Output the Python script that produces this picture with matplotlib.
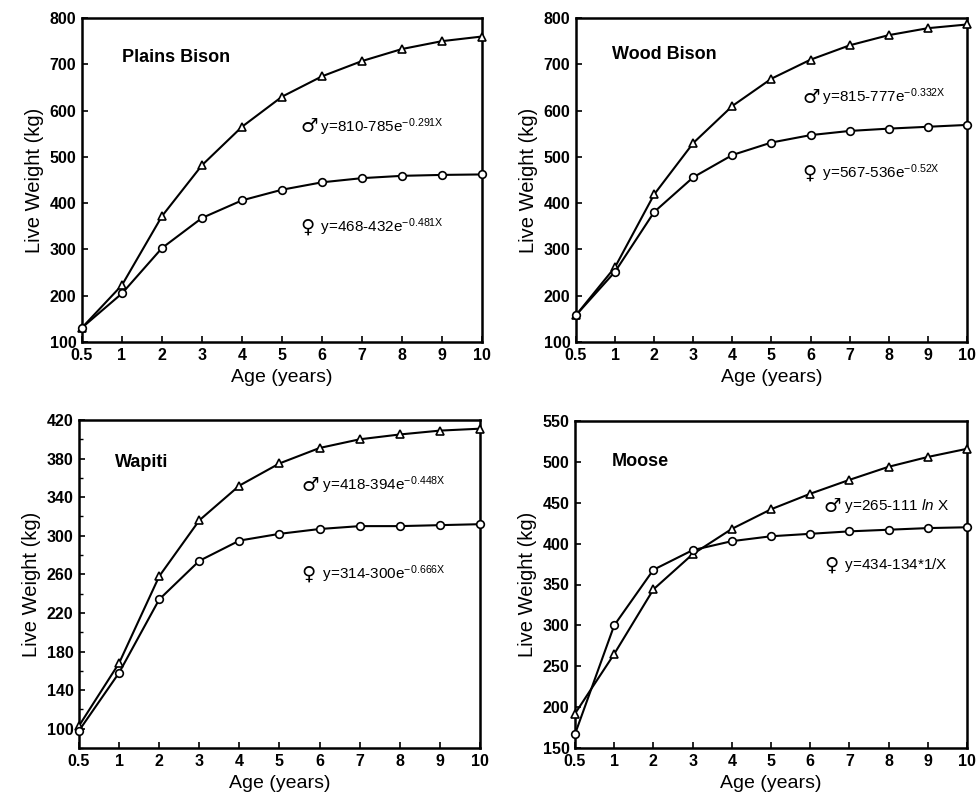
import matplotlib
matplotlib.use("Agg")
import matplotlib.pyplot as plt
from matplotlib.ticker import FixedLocator

plt.rcParams['font.family'] = ['Liberation Sans', 'DejaVu Sans']
plt.rcParams['mathtext.fontset'] = 'custom'
plt.rcParams['mathtext.rm'] = 'Liberation Sans'
plt.rcParams['mathtext.it'] = 'Liberation Sans:italic'
plt.rcParams['mathtext.bf'] = 'Liberation Sans:bold'

age_labels = ["0.5", "1", "2", "3", "4", "5", "6", "7", "8", "9", "10"]

plains_male = [131, 223, 372, 482, 565, 630, 674, 707, 733, 750, 760]
plains_female = [131, 205, 303, 368, 406, 429, 445, 454, 459, 461, 462]

wood_male = [158, 262, 419, 530, 610, 669, 710, 741, 763, 778, 786]
wood_female = [158, 252, 381, 456, 504, 531, 547, 556, 561, 565, 569]

wapiti_male = [103, 168, 258, 316, 352, 375, 391, 400, 405, 409, 411]
wapiti_female = [98, 158, 234, 274, 295, 302, 307, 310, 310, 311, 312]

moose_male = [192, 265, 344, 387, 418, 442, 461, 478, 494, 506, 516]
moose_female = [167, 300, 368, 392, 403, 409, 412, 415, 417, 419, 420]

plains_yticks = [100, 200, 300, 400, 500, 600, 700, 800]
wood_yticks = [100, 200, 300, 400, 500, 600, 700, 800]
wapiti_yticks = [100, 140, 180, 220, 260, 300, 340, 380, 420]
wapiti_yminor = [80, 120, 160, 200, 240, 280, 320, 360, 400]
moose_yticks = [150, 200, 250, 300, 350, 400, 450, 500, 550]

panels = [
    dict(name="Plains Bison", male=plains_male, female=plains_female,
         ylim=(100, 800), yticks=plains_yticks, yminor=None,
         meq=r"$\mathregular{y\!=\!810\text{-}785e^{-0.291X}}$",
         feq=r"$\mathregular{y\!=\!468\text{-}432e^{-0.481X}}$",
         rect=[82, 18, 482, 342], title_xy=(0.10, 0.877),
         m_xy=(0.545, 0.664), f_xy=(0.545, 0.355)),
    dict(name="Wood Bison", male=wood_male, female=wood_female,
         ylim=(100, 800), yticks=wood_yticks, yminor=None,
         meq=r"$\mathregular{y\!=\!815\text{-}777e^{-0.332X}}$",
         feq=r"$\mathregular{y\!=\!567\text{-}536e^{-0.52X}}$",
         rect=[576, 18, 967, 342], title_xy=(0.093, 0.886),
         m_xy=(0.58, 0.756), f_xy=(0.58, 0.52)),
    dict(name="Wapiti", male=wapiti_male, female=wapiti_female,
         ylim=(80, 420), yticks=wapiti_yticks, yminor=wapiti_yminor,
         meq=r"$\mathregular{y\!=\!418\text{-}394e^{-0.448X}}$",
         feq=r"$\mathregular{y\!=\!314\text{-}300e^{-0.666X}}$",
         rect=[79, 420, 480, 748], title_xy=(0.09, 0.87),
         m_xy=(0.555, 0.80), f_xy=(0.555, 0.53)),
    dict(name="Moose", male=moose_male, female=moose_female,
         ylim=(150, 550), yticks=moose_yticks, yminor=None,
         meq=r"$\mathregular{y\!=\!265\text{-}111\ \mathit{ln}\ X}$",
         feq=r"$\mathregular{y\!=\!434\text{-}134{*}1/X}$",
         rect=[575, 421, 967, 748], title_xy=(0.095, 0.875),
         m_xy=(0.635, 0.74), f_xy=(0.635, 0.56)),
]

W, H = 979, 806
fig = plt.figure(figsize=(W / 100, H / 100), dpi=100)

for p in panels:
    l, t, r, b = p["rect"]
    ax = fig.add_axes([l / W, 1 - b / H, (r - l) / W, (b - t) / H])
    x = list(range(len(age_labels)))
    ax.plot(x, p["male"], color="black", lw=1.5, marker="^", ms=6,
            mfc="white", mec="black", mew=1.2, clip_on=False, zorder=3)
    ax.plot(x, p["female"], color="black", lw=1.5, marker="o", ms=5.5,
            mfc="white", mec="black", mew=1.2, clip_on=False, zorder=3)
    ax.set_xlim(0, 10)
    ax.set_ylim(*p["ylim"])
    ax.set_xticks(x)
    ax.set_xticklabels(age_labels)
    ax.yaxis.set_major_locator(FixedLocator(p["yticks"]))
    if p["yminor"]:
        ax.yaxis.set_minor_locator(FixedLocator(p["yminor"]))
    ax.tick_params(direction="in", length=4, width=1.2, labelsize=11.5,
                   pad=4)
    ax.tick_params(which="minor", direction="in", length=3, width=1)
    for lab in ax.get_xticklabels() + ax.get_yticklabels():
        lab.set_fontweight("bold")
    for s in ax.spines.values():
        s.set_linewidth(1.8)
    ax.set_xlabel("Age (years)", fontsize=14, labelpad=5)
    ax.set_ylabel("Live Weight (kg)", fontsize=14.5, labelpad=4)
    ax.text(p["title_xy"][0], p["title_xy"][1], p["name"],
            transform=ax.transAxes, fontsize=13, fontweight="bold",
            va="center", ha="left")
    ax.text(p["m_xy"][0], p["m_xy"][1], "\u2642",
            transform=ax.transAxes, fontsize=14, va="center", ha="left",
            family=['DejaVu Sans'])
    ax.text(p["m_xy"][0] + 0.05, p["m_xy"][1], p["meq"],
            transform=ax.transAxes, fontsize=11, va="center", ha="left")
    ax.text(p["f_xy"][0], p["f_xy"][1], "\u2640",
            transform=ax.transAxes, fontsize=14, va="center", ha="left",
            family=['DejaVu Sans'])
    ax.text(p["f_xy"][0] + 0.05, p["f_xy"][1], p["feq"],
            transform=ax.transAxes, fontsize=11, va="center", ha="left")

fig.savefig("out.png", dpi=100, facecolor="white")
